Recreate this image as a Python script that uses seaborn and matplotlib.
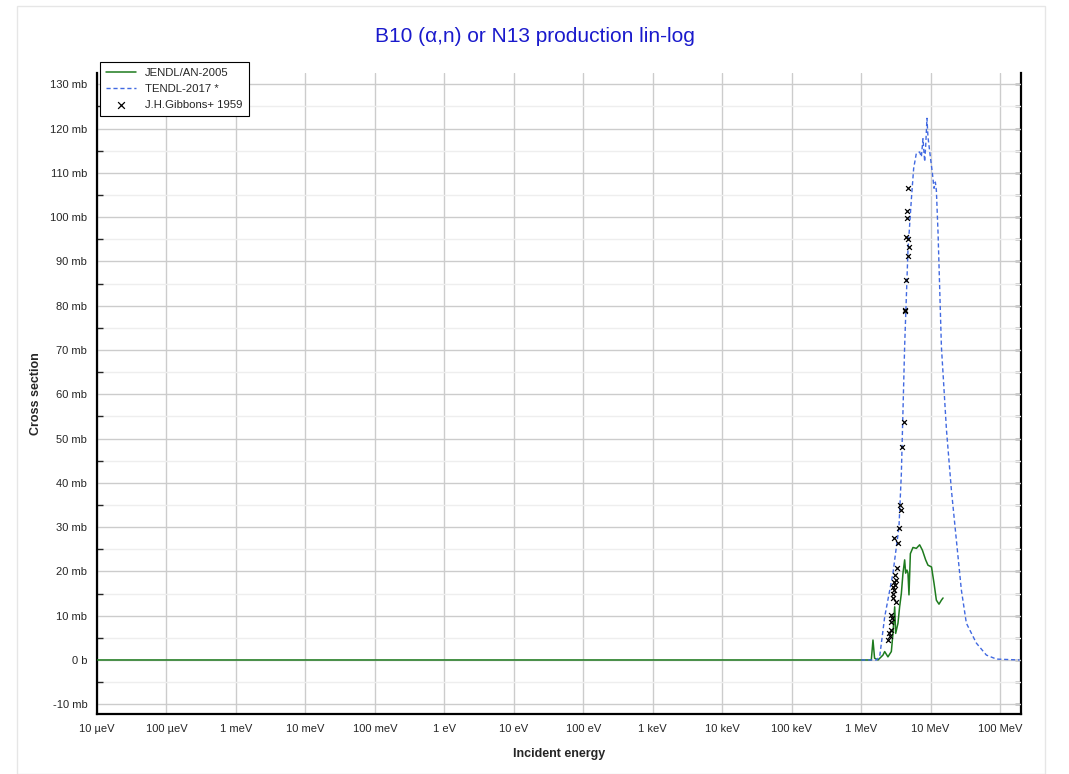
import numpy as np
import pandas as pd
import matplotlib
matplotlib.use("Agg")
import matplotlib.pyplot as plt
import matplotlib.ticker as mticker
from matplotlib.patches import Rectangle
import seaborn as sns

# ---------------- data (energies in MeV, cross sections in mb) ----------------
jendl_E = [1e-11, 1.0, 1.40, 1.48, 1.56, 1.75, 2.06, 2.18, 2.43, 2.72, 2.87, 3.04, 3.14,
           3.39, 3.58, 3.79, 4.00, 4.23, 4.37, 4.56, 4.72, 4.88, 5.11, 5.57, 6.23,
           6.95, 7.61, 8.48, 9.16, 10.3, 11.2, 12.1, 13.2, 14.3, 15.1]
jendl_xs = [0.0, 0.0, 0.0, 4.5, 0.4, 0.0, 1.1, 1.9, 0.7, 1.9, 6.0, 12.0, 6.0,
            8.3, 12.0, 15.0, 19.6, 22.6, 19.6, 20.3, 19.6, 14.7, 24.0, 25.4, 25.2,
            26.0, 24.8, 22.6, 21.4, 21.0, 17.3, 13.5, 12.6, 13.5, 14.0]

tendl_E = [1.0, 1.67, 1.85, 2.18, 2.87, 3.50, 3.79, 4.23, 4.72, 5.28, 5.70, 6.23,
           6.95, 7.36, 7.76, 8.21, 8.48, 8.86, 9.16, 9.91, 10.6, 11.2, 11.7, 12.1,
           12.8, 14.3, 15.6, 16.9, 19.9, 23.5, 27.7, 32.7, 45.6, 63.5, 88.5, 191.0]
tendl_xs = [0.0, 0.0, 0.8, 9.7, 19.6, 30.0, 42.0, 71.0, 92.5, 104.0, 111.0, 114.4,
            114.7, 113.6, 117.7, 112.5, 115.9, 122.3, 118.1, 113.6, 109.9, 106.5, 107.9, 106.0,
            96.3, 70.7, 61.0, 52.0, 38.4, 27.0, 15.8, 8.3, 3.8, 1.1, 0.2, 0.0]

gib_E = [4.66, 4.61, 4.56, 4.47, 4.72, 4.83, 4.72, 4.37, 4.23, 4.27,
         4.09, 3.92, 3.67, 3.79, 3.55, 2.94, 3.44, 3.28, 3.04, 3.14,
         2.94, 3.04, 2.87, 2.97, 2.87, 2.87, 3.21, 2.72, 2.82, 2.66,
         2.72, 2.52, 2.58, 2.46]
gib_xs = [106.5, 101.4, 99.9, 95.4, 95.0, 93.3, 91.2, 85.8, 79.0, 78.8,
          53.8, 48.0, 35.0, 33.9, 29.7, 27.5, 26.5, 20.8, 19.2, 18.0,
          17.7, 16.9, 16.5, 15.8, 15.0, 13.9, 13.2, 10.2, 9.5, 8.6,
          6.8, 6.0, 5.3, 4.5]

x_ticks = [1e-5, 1e-4, 1e-3, 1e-2, 1e-1, 1, 10, 100, 1e3, 1e4, 1e5, 1e6, 1e7, 1e8]
x_labels = ["10 µeV", "100 µeV", "1 meV", "10 meV", "100 meV", "1 eV", "10 eV",
            "100 eV", "1 keV", "10 keV", "100 keV", "1 MeV", "10 MeV", "100 MeV"]
y_ticks = [-10, 0, 10, 20, 30, 40, 50, 60, 70, 80, 90, 100, 110, 120, 130]
y_labels = ["-10 mb", "0 b", "10 mb", "20 mb", "30 mb", "40 mb", "50 mb", "60 mb",
            "70 mb", "80 mb", "90 mb", "100 mb", "110 mb", "120 mb", "130 mb"]

# ---------------- style ----------------
sns.set_style("white")
plt.rcParams["font.family"] = ["Liberation Sans", "DejaVu Sans"]

W, H = 1069, 774
fig = plt.figure(figsize=(W / 100, H / 100), dpi=100)
ax_l, ax_r, ax_t, ax_b = 97, 1021, 72.7, 714
ax = fig.add_axes([ax_l / W, (H - ax_b) / H, (ax_r - ax_l) / W, (ax_b - ax_t) / H])

fig.patches.append(Rectangle((17 / W, 0), (1045 - 17) / W, (H - 6) / H,
                             transform=fig.transFigure, fill=False,
                             edgecolor="#e6e6e6", linewidth=1.0, zorder=0))

df_j = pd.DataFrame({"E": np.array(jendl_E) * 1e6, "xs": jendl_xs})
df_t = pd.DataFrame({"E": np.array(tendl_E) * 1e6, "xs": tendl_xs})
df_g = pd.DataFrame({"E": np.array(gib_E) * 1e6, "xs": gib_xs})

sns.lineplot(data=df_j, x="E", y="xs", ax=ax, color="#1e7b1e", linewidth=1.1,
             sort=False, estimator=None, label="JENDL/AN-2005", zorder=3)
sns.lineplot(data=df_t, x="E", y="xs", ax=ax, color="#4169e1", linewidth=1.0,
             linestyle=(0, (3, 2)), sort=False, estimator=None, label="TENDL-2017 *", zorder=3)
sns.scatterplot(data=df_g, x="E", y="xs", ax=ax, marker="x", color="black", s=12,
                linewidth=0.9, label="J.H.Gibbons+ 1959", zorder=4)

ax.set_xscale("log")
ax.set_xlim(1e-5, 2e8)
ax.set_ylim(-12.2, 132.6)

ax.set_xticks(x_ticks)
ax.set_xticklabels(x_labels, fontsize=8)
ax.xaxis.set_minor_locator(mticker.NullLocator())
ax.set_yticks(y_ticks)
ax.set_yticklabels(y_labels, fontsize=8)
ax.yaxis.set_minor_locator(mticker.MultipleLocator(5))

ax.grid(True, which="major", color="#cccccc", linewidth=1.0, zorder=0)
ax.grid(True, which="minor", axis="y", color="#eeeeee", linewidth=1.0, zorder=0)
ax.set_axisbelow(True)

# left / bottom: crossing major ticks, short inward minor ticks
ax.tick_params(axis="both", which="major", direction="inout", length=8, width=1.0,
               color="black", pad=3, right=False)
ax.tick_params(axis="y", which="minor", direction="in", length=4, width=1.0,
               left=True, right=False)

# right side: short inward ticks at every 5 mb, no labels
axr = ax.secondary_yaxis("right")
axr.set_yticks(y_ticks)
axr.set_yticklabels([])
axr.yaxis.set_minor_locator(mticker.MultipleLocator(5))
axr.tick_params(axis="y", which="both", direction="in", length=4, width=1.0, color="black")
axr.spines["right"].set_linewidth(1.6)
axr.spines["right"].set_color("black")

for side in ["left", "bottom"]:
    ax.spines[side].set_visible(True)
    ax.spines[side].set_color("black")
    ax.spines[side].set_linewidth(1.6)
ax.spines["top"].set_visible(False)
ax.spines["right"].set_visible(False)

ax.set_xlabel("Incident energy", fontsize=9, fontweight="bold", labelpad=10)
ax.set_ylabel("Cross section", fontsize=9, fontweight="bold", labelpad=6)
fig.suptitle("B10 (α,n) or N13 production lin-log", color="#1a1acc", fontsize=15,
             y=(H - 37) / H, va="center")

leg = ax.legend(loc="upper left", fontsize=8.2, frameon=True, fancybox=False,
                edgecolor="black", framealpha=1.0, borderpad=0.55, labelspacing=0.5,
                handlelength=2.6, handletextpad=0.8, borderaxespad=0.0, markerscale=1.4,
                bbox_to_anchor=(3 / (ax_r - ax_l), 1 + 10.5 / (ax_b - ax_t)))
leg.get_frame().set_linewidth(0.8)

fig.savefig("out.png", dpi=100)
